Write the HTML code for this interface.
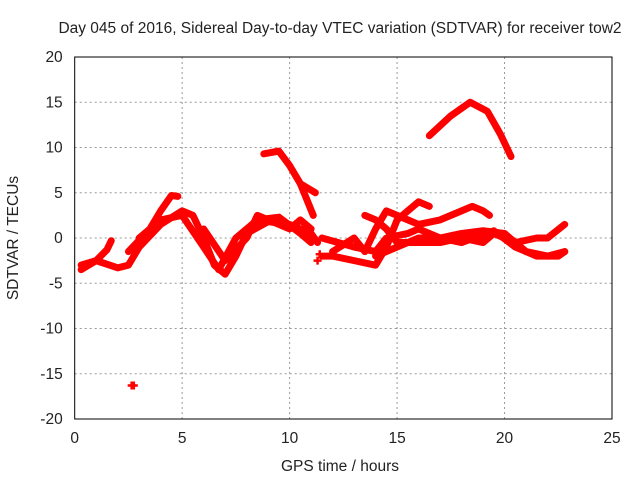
<!DOCTYPE html>
<html><head><meta charset="utf-8"><style>
body{margin:0;background:#fff}
svg text{font-family:"Liberation Sans",sans-serif;font-size:15.5px;fill:#222}
</style></head><body>
<svg id="c" width="640" height="480" xmlns="http://www.w3.org/2000/svg">
<text x="340" y="33" text-anchor="middle">Day 045 of 2016, Sidereal Day-to-day VTEC variation (SDTVAR) for receiver tow2</text>
<text x="340" y="471" text-anchor="middle">GPS time / hours</text>
<text transform="translate(18,238) rotate(-90)" text-anchor="middle">SDTVAR / TECUs</text>
<g id="grid"></g><g id="axes"></g><g id="data"></g>
</svg>
<script>
const xTicks=[0,5,10,15,20,25];
const yTicks=[-20,-15,-10,-5,0,5,10,15,20];
const trackAx=[16.5,17.5,18.4,19.2,19.8,20.3];
const trackAy=[11.3,13.5,15,14,11.5,9];
const trackBx=[8.8,9.5,10,10.5,11.2];
const trackBy=[9.3,9.6,8,6,5];
const trackB2x=[10.5,11.1];
const trackB2y=[6,2.5];
const trackCx=[2.5,3.5,4,4.5,4.8];
const trackCy=[-1.5,1,3,4.7,4.6];
const trackDx=[0.3,1,2,2.5,3,4,5,5.5,6,6.5,7,7.5,8,9,10,11,11.3];
const trackDy=[-3,-2.5,-3.3,-3,-1,1.5,3,2.5,0,-3,-4,-2,0.5,1.8,1.5,0.5,-0.5];
const trackEx=[0.3,1,1.5,1.7];
const trackEy=[-3.5,-2.5,-1.3,-0.3];
const trackFx=[3,4,5,6,6.7,7.5,8.5,9.5,10.5,11];
const trackFy=[0,2,2.5,-1,-3.5,0,2,2.3,0.5,-0.5];
const trackGx=[6,7,8,8.5,10,10.5,11];
const trackGy=[1,-2.5,0,2.5,1,2,1];
const trackHx=[11.5,12,13,14,14.5,15,15.5,16,16.5];
const trackHy=[-2,-2,-2.5,-3,-1,2,3,4,3.5];
const trackIx=[12,13,13.5,14,14.5,15.5,16,17,18,18.5,19,19.3];
const trackIy=[-1.5,0,-1.5,1,3,2,1.5,2,3,3.5,3,2.5];
const trackJx=[11.5,13,14,14.5,15.5,16,17,18,19,20,21,22,22.8];
const trackJy=[0,-1,-1.5,0,0.5,1,0,0.5,0.8,0.5,-1.5,-2,-1.5];
const trackKx=[13.5,14,14.5,15,16,17,18,19,19.5,20,20.5,21.5,22,22.8];
const trackKy=[2.5,2,1,-0.5,-0.5,-0.5,0,-0.5,0.5,0,-0.5,0,0,1.5];
const trackLx=[14,15,16,17,18,19.5,20.5,21.5,22.5,22.8];
const trackLy=[-2,-1,0,0,-0.5,0.8,-1,-2,-2,-1.5];
const outX=[2.65,2.75,11.3,11.4];
const outY=[-16.3,-16.3,-2.5,-1.8];
const tracks=[[trackAx,trackAy],[trackBx,trackBy],[trackB2x,trackB2y],[trackCx,trackCy],[trackDx,trackDy],[trackEx,trackEy],[trackFx,trackFy],[trackGx,trackGy],[trackHx,trackHy],[trackIx,trackIy],[trackJx,trackJy],[trackKx,trackKy],[trackLx,trackLy]];
const L=74.7,R=612,T=57,B=419;
const sx=v=>L+(v-0)*(R-L)/25;
const sy=v=>238-v*(238-T)/20;
const NS="http://www.w3.org/2000/svg";
function mk(tag,at,parent){const e=document.createElementNS(NS,tag);for(const k in at)e.setAttribute(k,at[k]);document.getElementById(parent).appendChild(e);return e;}
xTicks.forEach(t=>{
 if(t>0&&t<25){const g=mk('line',{x1:sx(t),x2:sx(t),y1:T,y2:B,stroke:'#999','stroke-dasharray':'2,3'},'grid');
 
 }
 const tx=mk('text',{x:sx(t),y:B+24,'text-anchor':'middle'},'axes');tx.textContent=t;
 
 
});
yTicks.forEach(t=>{
 if(t>-20&&t<20){const g=mk('line',{x1:L,x2:R,y1:sy(t),y2:sy(t),stroke:'#999','stroke-dasharray':'2,3'},'grid');
 
 }
 const tx=mk('text',{x:L-12,y:sy(t)+5,'text-anchor':'end'},'axes');tx.textContent=t;
 
 
});
const fr=mk('rect',{x:L,y:T,width:R-L,height:B-T,fill:'none',stroke:'#000','stroke-width':1},'axes');


tracks.forEach(([xs,ys])=>{
 const p=mk('polyline',{points:xs.map((x,i)=>sx(x)+','+sy(ys[i])).join(' '),fill:'none',stroke:'#f00','stroke-width':7,'stroke-linejoin':'round','stroke-linecap':'round'},'data');
 
 
});
outX.forEach((x,i)=>{
 const p=mk('path',{d:`M${sx(x)-4},${sy(outY[i])}h8M${sx(x)},${sy(outY[i])-4}v8`,stroke:'#f00','stroke-width':2.5},'data');
 
 
});
</script>
</body></html>
